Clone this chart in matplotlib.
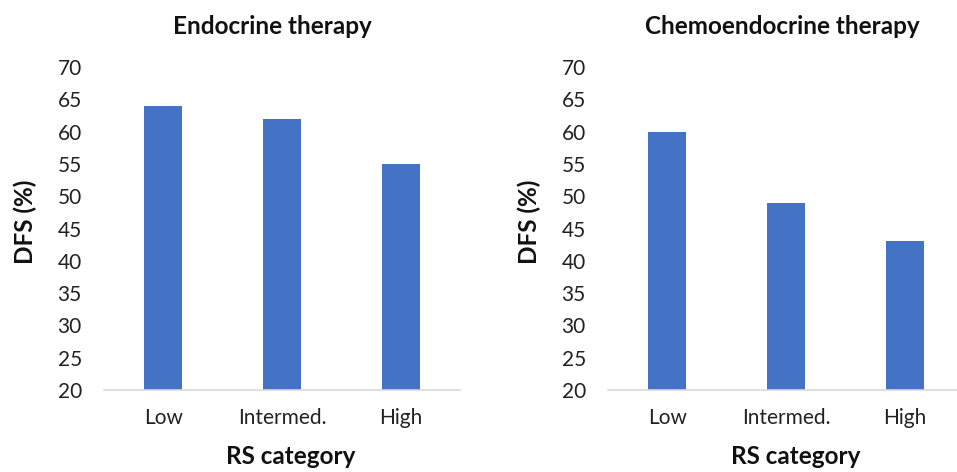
import matplotlib.pyplot as plt

# values
categories = ['Low', 'Intermed.', 'High']
endocrine_dfs = [64, 62, 55]
chemoendocrine_dfs = [60, 49, 43]
y_ticks = [20, 25, 30, 35, 40, 45, 50, 55, 60, 65, 70]
titles = ['Endocrine therapy', 'Chemoendocrine therapy']

plt.rcParams['font.family'] = ['Lato', 'DejaVu Sans']

W, H = 957, 472
fig = plt.figure(figsize=(W / 100, H / 100), dpi=100)


def px_axes(left, top, right, bottom):
    # pixel box -> figure fraction
    return fig.add_axes([left / W, 1 - bottom / H, (right - left) / W, (bottom - top) / H])


def draw_panel(ax, values):
    ax.bar(range(len(categories)), values, width=0.32, color='#4472C4', bottom=0)
    ax.set_xlim(-0.5, len(categories) - 0.5)
    ax.set_ylim(20, 70)
    ax.set_yticks(y_ticks)
    ax.set_xticks(range(len(categories)))
    ax.set_xticklabels(categories)
    for s in ['top', 'right', 'left']:
        ax.spines[s].set_visible(False)
    ax.spines['bottom'].set_color('#D9D9D9')
    ax.spines['bottom'].set_linewidth(1.2)
    ax.tick_params(axis='both', length=0, labelsize=15, colors='#222222')
    ax.tick_params(axis='y', pad=16)
    ax.tick_params(axis='x', pad=13)


ax1 = px_axes(104, 67, 460, 390)
draw_panel(ax1, endocrine_dfs)
ax2 = px_axes(608, 67, 964, 390)
draw_panel(ax2, chemoendocrine_dfs)

# titles and axis labels, placed like the Excel chart areas
lab = dict(ha='center', va='center', fontsize=17.5, fontweight='bold', color='#111111')
fig.text(272 / W, 1 - 27 / H, titles[0], **lab)
fig.text(782 / W, 1 - 27 / H, titles[1], **lab)
fig.text(25 / W, 1 - 222 / H, 'DFS (%)', rotation=90, **lab)
fig.text(529 / W, 1 - 222 / H, 'DFS (%)', rotation=90, **lab)
fig.text(291 / W, 1 - 457 / H, 'RS category', **lab)
fig.text(796 / W, 1 - 457 / H, 'RS category', **lab)

fig.savefig('out.png', dpi=100)
